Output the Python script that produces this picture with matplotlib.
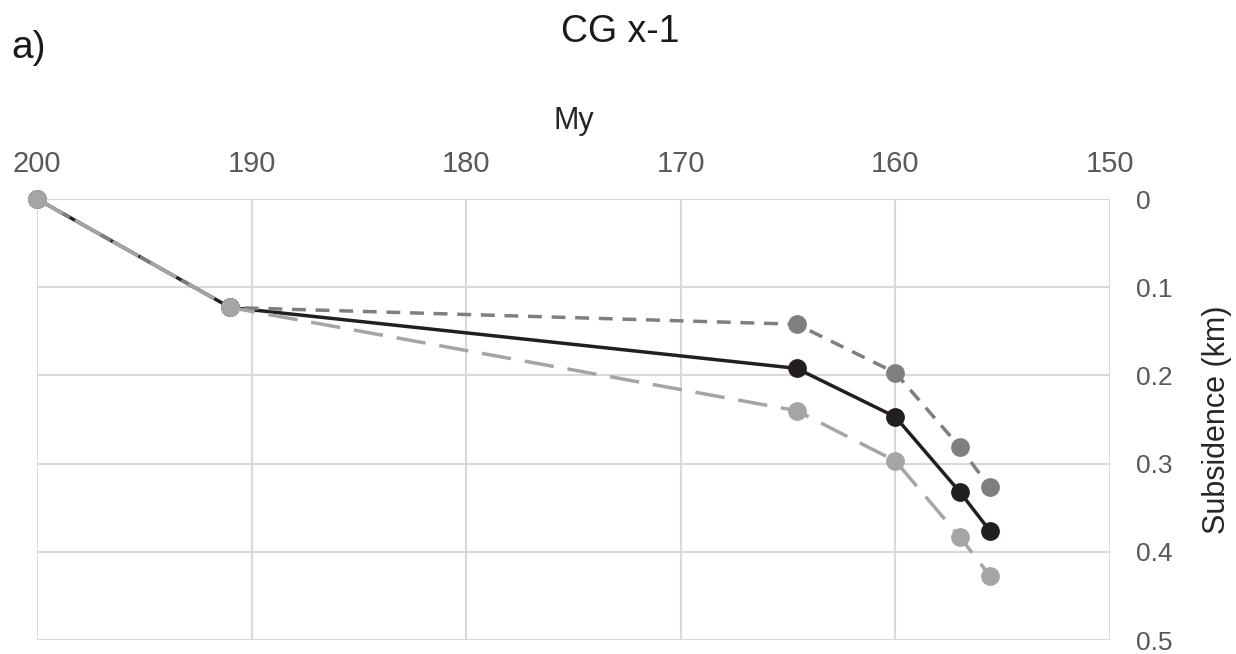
import matplotlib
matplotlib.use("Agg")
import matplotlib.pyplot as plt

plt.rcParams['font.family'] = ['Liberation Sans', 'DejaVu Sans']

ages = [200, 191, 164.6, 160, 157, 155.6]
subs_mid = [0, 0.123, 0.192, 0.247, 0.332, 0.376]
subs_low = [0, 0.123, 0.142, 0.197, 0.281, 0.327]
subs_high = [0, 0.123, 0.240, 0.297, 0.383, 0.427]

x_ticks = [200, 190, 180, 170, 160, 150]
y_ticks = [0, 0.1, 0.2, 0.3, 0.4, 0.5]
y_ticklabels = ["0", "0.1", "0.2", "0.3", "0.4", "0.5"]

fig = plt.figure(figsize=(12.36, 6.54), dpi=100)
ax = fig.add_axes([0.030, 0.0214, 0.868, 0.6743])

lw = 2.5
ax.plot(ages, subs_mid, color='#231f20', lw=lw, marker='o', ms=12.5, zorder=3,
        clip_on=False)
ax.plot(ages, subs_low, color='#7f7f7f', lw=lw, marker='o', ms=12.5, zorder=4,
        linestyle=(0, (4, 2.8)), clip_on=False)
ax.plot(ages, subs_high, color='#a5a5a5', lw=lw, marker='o', ms=12.5, zorder=5,
        linestyle=(0, (8.5, 4)), clip_on=False)

ax.set_xlim(200, 150)
ax.set_ylim(0.5, 0)
ax.set_xticks(x_ticks)
ax.set_yticks(y_ticks)
ax.set_yticklabels(y_ticklabels)
ax.xaxis.tick_top()
ax.xaxis.set_label_position('top')
ax.yaxis.tick_right()
ax.yaxis.set_label_position('right')
ax.tick_params(axis='both', length=0, labelcolor='#595959')
ax.tick_params(axis='x', labelsize=21, pad=15)
ax.tick_params(axis='y', labelsize=19, pad=19)
for s in ax.spines.values():
    s.set_visible(False)
ax.grid(True, color='#d9d9d9', lw=1.5, zorder=0)
ax.set_axisbelow(True)

ax.set_xlabel('My', fontsize=22, color='#262626', labelpad=15)
ax.set_ylabel('Subsidence (km)', fontsize=22, color='#262626', labelpad=21)

fig.text(0.5016, 1 - 42 / 654, 'CG x-1', fontsize=27, color='#1a1a1a',
         ha='center', va='baseline')
fig.text(0.0089, 1 - 58 / 654, 'a)', fontsize=28, color='#1a1a1a',
         ha='left', va='baseline')

fig.savefig('out.png', dpi=100)
